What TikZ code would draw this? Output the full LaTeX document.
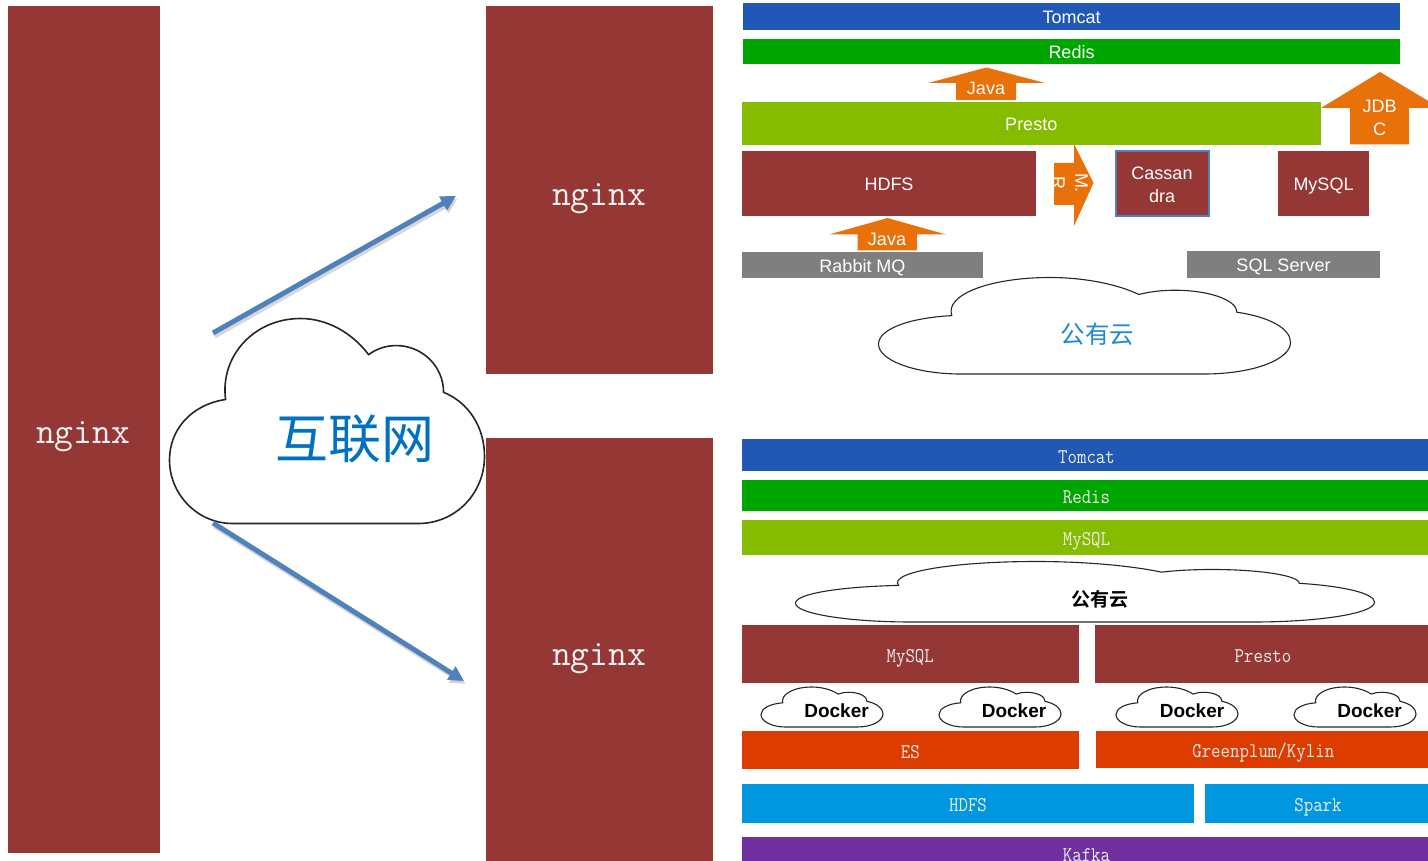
\documentclass[tikz,border=0pt]{standalone}
\usepackage{fontspec}
\setmainfont{Liberation Sans}
\setmonofont{Latin Modern Mono}
\newfontfamily\tallmono[FakeStretch=.875]{Latin Modern Mono}
\newfontfamily\cjk{Noto Sans CJK SC}
\newfontfamily\cjkb[BoldFont={Noto Sans CJK SC Bold}]{Noto Sans CJK SC}
\usetikzlibrary{arrows.meta}
\definecolor{brownbar}{HTML}{953735}
\definecolor{bluebar}{HTML}{2157B5}
\definecolor{greenbar}{HTML}{00A600}
\definecolor{limebar}{HTML}{86BC00}
\definecolor{redbar}{HTML}{DC3C00}
\definecolor{skybar}{HTML}{0097E0}
\definecolor{purplebar}{HTML}{7030A0}
\definecolor{graybar}{HTML}{7F7F7F}
\definecolor{orangearrow}{HTML}{E8710A}
\definecolor{bluearrow}{HTML}{4F81BD}
\definecolor{cloudtext}{HTML}{0070C0}
\definecolor{cloudtextb}{HTML}{1F88D8}
\tikzset{
  bar/.style={inner sep=0pt,outer sep=0pt,text=white},
  sanslabel/.style={font=\fontsize{18}{23}\selectfont},
  sansone/.style={sanslabel,text height=18pt,text depth=3pt},
  sansthin/.style={sanslabel,text height=18pt,text depth=5pt},
  monolabel/.style={font=\tallmono\fontsize{21}{24}\selectfont,text height=21pt,text depth=4.2pt,text=white!92!black},
  biglabel/.style={font=\ttfamily\fontsize{36.5}{40}\selectfont,text=white!95!black},
  cloudline/.style={draw=black!85,fill=white,line width=\cloudlw},
  flow/.style={draw=bluearrow,line width=5pt,-{Triangle[length=15pt,width=15pt]}},
  flowshadow/.style={draw=black!35,opacity=.45,line width=5pt,-{Triangle[length=15pt,width=15pt]}},
  uparrow/.style={fill=orangearrow,draw=none},
}
\newcommand{\cloudlw}{1.1pt}
% \barbox{name}{x0}{y0}{x1}{y1}{colour}{style}{text}
\newcommand{\barbox}[8]{%
  \pgfmathsetmacro{\bw}{#4-#2}\pgfmathsetmacro{\bh}{#5-#3}%
  \pgfmathsetmacro{\bx}{(#2+#4)/2}\pgfmathsetmacro{\by}{(#3+#5)/2}%
  \node[bar,fill=#6,#7,minimum width=\bw pt,minimum height=\bh pt] (#1) at (\bx,\by) {#8};}
% \cloudshape{x}{y}{w}{h}
\newcommand{\cloudshape}[4]{%
  \begin{scope}[shift={(#1,#2)},x=#3pt,y=-#4pt]
    \path[cloudline] (.2,1) .. controls (.09,1) and (0,.86) .. (0,.69)
      .. controls (0,.54) and (.07,.42) .. (.178,.395)
      .. controls (.16,.18) and (.27,0) .. (.416,0)
      .. controls (.5,0) and (.58,.07) .. (.632,.176)
      .. controls (.66,.145) and (.69,.132) .. (.72,.132)
      .. controls (.8,.132) and (.87,.23) .. (.87,.36)
      .. controls (.95,.41) and (1,.53) .. (1,.673)
      .. controls (1,.85) and (.91,1) .. (.79,1) -- cycle;
  \end{scope}}
\begin{document}
\begin{tikzpicture}[x=1pt,y=-1pt]
\useasboundingbox (0,0) rectangle (1428,861);
\clip (0,0) rectangle (1428,861);
% nginx columns
\barbox{ngxL}{8}{6}{160}{853}{brownbar}{}{}
\barbox{ngxT}{486}{6}{713}{374}{brownbar}{}{}
\barbox{ngxB}{486}{438}{713}{864}{brownbar}{}{}
\node[bar,biglabel] (ngxLt) at (83,437) {nginx};
\node[bar,biglabel] (ngxTt) at (599,199) {nginx};
\node[bar,biglabel] (ngxBt) at (599,659) {nginx};
% internet cloud
\renewcommand{\cloudlw}{1.6pt}
\cloudshape{169.5}{318.5}{315}{205}
\renewcommand{\cloudlw}{1.1pt}
\node[font=\cjk\fontsize{53}{56}\selectfont,text=cloudtext,inner sep=0pt] (inet) at (355,439) {互联网};
% flows
\coordinate (a0) at (213,333);
\coordinate (a1) at (456,196);
\coordinate (b0) at (213,523);
\coordinate (b1) at (464,681);
\begin{scope}[shift={(1.5,3)}]
  \coordinate (a0s) at (213,333);
  \coordinate (a1s) at (456,196);
  \coordinate (b0s) at (213,523);
  \coordinate (b1s) at (464,681);
\end{scope}
\draw[flowshadow] (a0s) -- (a1s);
\draw[flowshadow] (b0s) -- (b1s);
\draw[flow] (a0) -- (a1);
\draw[flow] (b0) -- (b1);
% top stack
\barbox{tTomcat}{743}{3.5}{1400}{30}{bluebar}{sansthin}{Tomcat}
\barbox{tRedis}{743}{39}{1400}{64.5}{greenbar}{sansthin}{Redis}
\fill[uparrow] (986.5,67.5) -- (1045,83) -- (1016,83) -- (1016,100) -- (956,100) -- (956,83) -- (928,83) -- cycle;
\node[bar,sanslabel] (tJava1) at (986,88.5) {Java};
\barbox{tPresto}{742}{102}{1320.5}{145}{limebar}{sansone}{Presto}
\fill[uparrow] (1380,72) -- (1440,108) -- (1409,108) -- (1409,144.5) -- (1350,144.5) -- (1350,108) -- (1321,108) -- cycle;
\node[bar,sanslabel,align=center] (tJdbc) at (1379.5,118) {JDB\\C};
\barbox{tHdfs}{742}{151}{1036}{216}{brownbar}{sansone}{HDFS}
\fill[uparrow] (1074,144) -- (1093.5,183) -- (1074,226) -- (1074,205) -- (1054,205) -- (1054,163) -- (1074,163) -- cycle;
\node[bar,sanslabel,align=center,rotate=-90] (tMr) at (1070,183) {M.\\R};
\barbox{tCass}{1116}{151.5}{1208.5}{216.5}{brownbar}{draw=bluearrow,line width=2pt}{}
\node[bar,sanslabel,align=center] (tCasst) at (1162,185) {Cassan\\dra};
\barbox{tMysql}{1278}{151}{1369}{216}{brownbar}{sansone}{MySQL}
\fill[uparrow] (887.5,218) -- (946,234.5) -- (917,234.5) -- (917,250.5) -- (857.5,250.5) -- (857.5,234.5) -- (829,234.5) -- cycle;
\node[bar,sanslabel] (tJava2) at (887,239) {Java};
\barbox{tRabbit}{742}{252}{983}{278}{graybar}{sansone}{Rabbit MQ}
\barbox{tSql}{1187}{251}{1380}{278}{graybar}{sansone}{SQL Server}
\cloudshape{878.5}{277.5}{412}{96.5}
\node[font=\cjk\fontsize{24.5}{28}\selectfont,text=cloudtextb,inner sep=0pt] (tCloud) at (1097.5,334) {公有云};
% bottom stack
\barbox{bTomcat}{742}{439}{1431}{471}{bluebar}{monolabel}{Tomcat}
\barbox{bRedis}{742}{480}{1431}{511}{greenbar}{monolabel}{Redis}
\barbox{bMysql}{742}{520}{1431}{555}{limebar}{monolabel}{MySQL}
\cloudshape{795.5}{561.5}{579}{60.5}
\node[font=\cjkb\bfseries\fontsize{19}{22}\selectfont,text=black,inner sep=0pt] (bCloud) at (1099.5,599) {公有云};
\barbox{bMysql2}{742}{625}{1078.5}{682.5}{brownbar}{monolabel}{MySQL}
\barbox{bPresto}{1095}{625}{1431}{682.5}{brownbar}{monolabel}{Presto}
\cloudshape{761}{687}{122}{40}
\cloudshape{939}{687}{122}{40}
\cloudshape{1116}{687}{122}{40}
\cloudshape{1294}{687}{122}{40}
\tikzset{dockerlabel/.style={font=\bfseries\fontsize{19}{22}\selectfont,text=black,inner sep=0pt}}
\node[dockerlabel] (d1) at (836.5,711) {Docker};
\node[dockerlabel] (d2) at (1014,711) {Docker};
\node[dockerlabel] (d3) at (1192,711) {Docker};
\node[dockerlabel] (d4) at (1369.5,711) {Docker};
\barbox{bEs}{742}{731}{1078.5}{769}{redbar}{monolabel}{ES}
\barbox{bGreen}{1095.5}{731}{1431}{768}{redbar}{monolabel}{Greenplum/Kylin}
\barbox{bHdfs}{742}{784}{1194}{823}{skybar}{monolabel}{HDFS}
\barbox{bSpark}{1205}{784}{1431}{823}{skybar}{monolabel}{Spark}
\barbox{bKafka}{742}{837}{1431}{869}{purplebar}{monolabel}{Kafka}
\end{tikzpicture}
\end{document}
